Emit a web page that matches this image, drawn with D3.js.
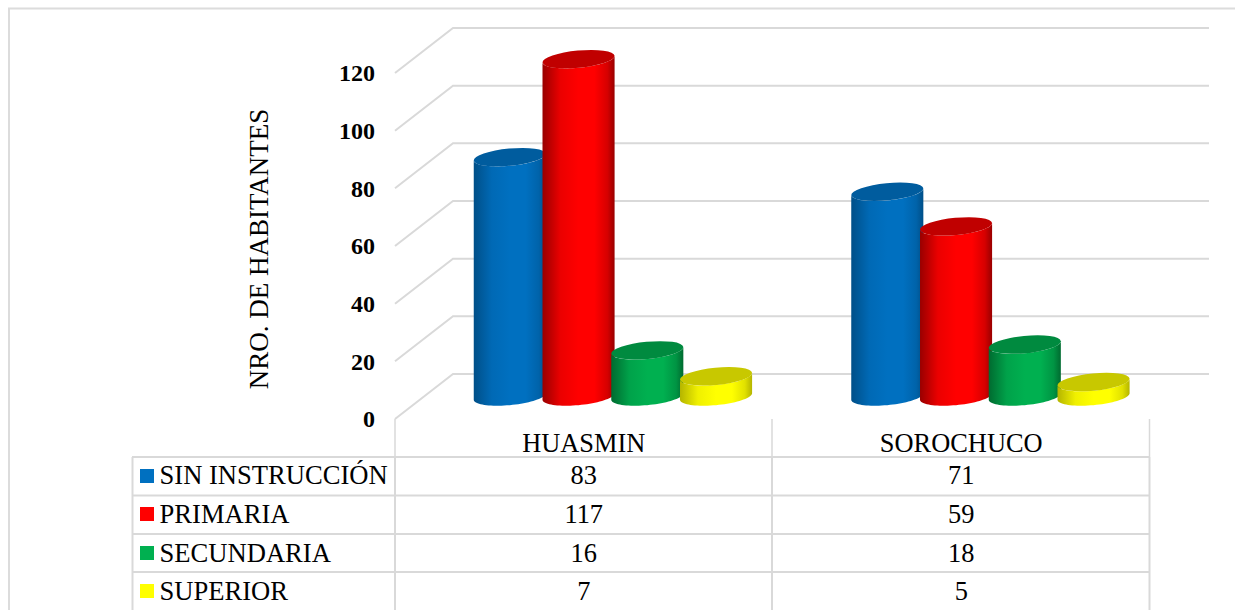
<!DOCTYPE html>
<html>
<head>
<meta charset="utf-8">
<script src="https://cdn.jsdelivr.net/npm/d3@7"></script>
<style>
html,body{margin:0;padding:0;background:#fff;overflow:hidden}
svg{display:block}
text{font-family:"Liberation Serif","Times New Roman",serif;fill:#000}
</style>
</head>
<body>
<div id="chart"></div>
<script>
const categories = ["HUASMIN", "SOROCHUCO"];
const seriesNames = ["SIN INSTRUCCIÓN", "PRIMARIA", "SECUNDARIA", "SUPERIOR"];
const sinInstruccion = [83, 71];
const primaria = [117, 59];
const secundaria = [16, 18];
const superior = [7, 5];
const yTicks = [0, 20, 40, 60, 80, 100, 120];
const yTitle = "NRO. DE HABITANTES";
const baseColors = ["#0070C0", "#FF0000", "#00B050", "#FFFF00"];
const edgeColors = ["#004f88", "#990000", "#006b30", "#b5b500"];
const topColors = ["#005c9e", "#C00000", "#008a3f", "#C8C800"];

const seriesValues = [sinInstruccion, primaria, secundaria, superior];
const W = 1235, H = 610;
const lineCol = "#d9d9d9";

const svg = d3.select("#chart").append("svg").attr("width", W).attr("height", H);

// Chart frame
svg.append("path").attr("d", "M1235,8.5H9V610").attr("fill", "none").attr("stroke", "#dcdcdc").attr("stroke-width", 2);

const depthX = 58, depthY = 45;
const y = d3.scaleLinear().domain([0, 120]).range([419, 73]);
const x0 = d3.scaleBand().domain(categories).range([395, 1150]);
const x1 = d3.scaleBand().domain(seriesNames).range([0, 275]);

// Walls
const wall = svg.append("g").attr("fill", "none").attr("stroke", lineCol).attr("stroke-width", 2);
yTicks.forEach(t => {
  const yy = y(t);
  wall.append("path").attr("d", `M395,${yy}L${395 + depthX},${yy - depthY}H1209`);
});

// Axis labels
const yAxis = d3.axisLeft(y).tickValues(yTicks).tickSize(0).tickPadding(0);
const axG = svg.append("g").attr("transform", "translate(375,0)").call(yAxis);
axG.select(".domain").remove();
axG.selectAll("text").style("font-family", '"Liberation Serif",serif').style("font-size", "24px").style("font-weight", "700").attr("fill", "#000").attr("dy", "0.33em");

svg.append("text").attr("transform", "translate(268,249) rotate(-90)").attr("text-anchor", "middle")
  .style("font-size", "27px").text(yTitle);

// Gradients
const defs = svg.append("defs");
baseColors.forEach((c, i) => {
  const g = defs.append("linearGradient").attr("id", "cyl" + i).attr("x1", 0).attr("x2", 1).attr("y1", 0).attr("y2", 0);
  [[0, edgeColors[i]], [0.25, d3.interpolateRgb(edgeColors[i], c)(0.8)], [0.5, c], [0.72, c], [0.9, d3.interpolateRgb(edgeColors[i], c)(0.6)], [1, edgeColors[i]]]
    .forEach(s => g.append("stop").attr("offset", s[0]).attr("stop-color", s[1]));
});

// Cylinders
const a = 36.2, b = 8.6, rot = -5.5;
const phi = rot * Math.PI / 180;
const X = Math.sqrt(a * a * Math.cos(phi) ** 2 + b * b * Math.sin(phi) ** 2);
const t0 = Math.atan2(-b * Math.sin(phi), a * Math.cos(phi));
const frontArc = d3.range(0, 41).map(k => t0 + Math.PI * k / 40);
const ellPt = (cx, cy, t) => [
  cx + a * Math.cos(t) * Math.cos(phi) - b * Math.sin(t) * Math.sin(phi),
  cy + a * Math.cos(t) * Math.sin(phi) + b * Math.sin(t) * Math.cos(phi)
];
const line = d3.line();
const barBase = y(0) - 22.5;
const unit = y(0) - y(1);
categories.forEach((cat, ci) => {
  seriesNames.forEach((s, si) => {
    const v = seriesValues[si][ci];
    const cx = x0(cat) + x0.bandwidth() / 2 + 29 - 137.5 + x1(s) + X - 1.5;
    const cyT = barBase - v * unit;
    const pts = frontArc.map(t => ellPt(cx, barBase, t))
      .concat(frontArc.slice().reverse().map(t => ellPt(cx, cyT, t)));
    const g = svg.append("g");
    g.append("path").attr("d", line(pts) + "Z").attr("fill", `url(#cyl${si})`);
    g.append("ellipse").attr("rx", a).attr("ry", b)
      .attr("transform", `translate(${cx},${cyT}) rotate(${rot})`)
      .attr("fill", topColors[si]);
  });
});

// Data table
const tblRows = [457, 495.5, 534, 572];
const tbl = svg.append("g").attr("stroke", lineCol).attr("fill", "none");
tbl.append("path").attr("d", "M395,419V457M772,419V457M1149.5,419V457").attr("stroke-width", 1.5);
tbl.append("path").attr("d", "M395,457V610M772,457V610M1149.5,457V610M132.5,457V610").attr("stroke-width", 2);
tblRows.forEach(r => {
  tbl.append("path").attr("d", `M132,${r}H1150`).attr("stroke-width", 2);
});

const centers = categories.map(c => x0(c) + x0.bandwidth() / 2);
categories.forEach((c, i) => {
  svg.append("text").attr("x", centers[i]).attr("y", 452).attr("text-anchor", "middle").style("font-size", "26.4px").text(c);
});
const rowBase = [484, 523, 561.5, 599.5];
const swatchY = [469, 507, 546, 584];
seriesNames.forEach((s, si) => {
  svg.append("rect").attr("x", 140).attr("y", swatchY[si]).attr("width", 14).attr("height", 14).attr("fill", baseColors[si]);
  svg.append("text").attr("x", 159.5).attr("y", rowBase[si]).style("font-size", "26.6px").text(s);
  categories.forEach((c, ci) => {
    svg.append("text").attr("x", centers[ci]).attr("y", rowBase[si]).attr("text-anchor", "middle").style("font-size", "26.4px").text(seriesValues[si][ci]);
  });
});
</script>
</body>
</html>
